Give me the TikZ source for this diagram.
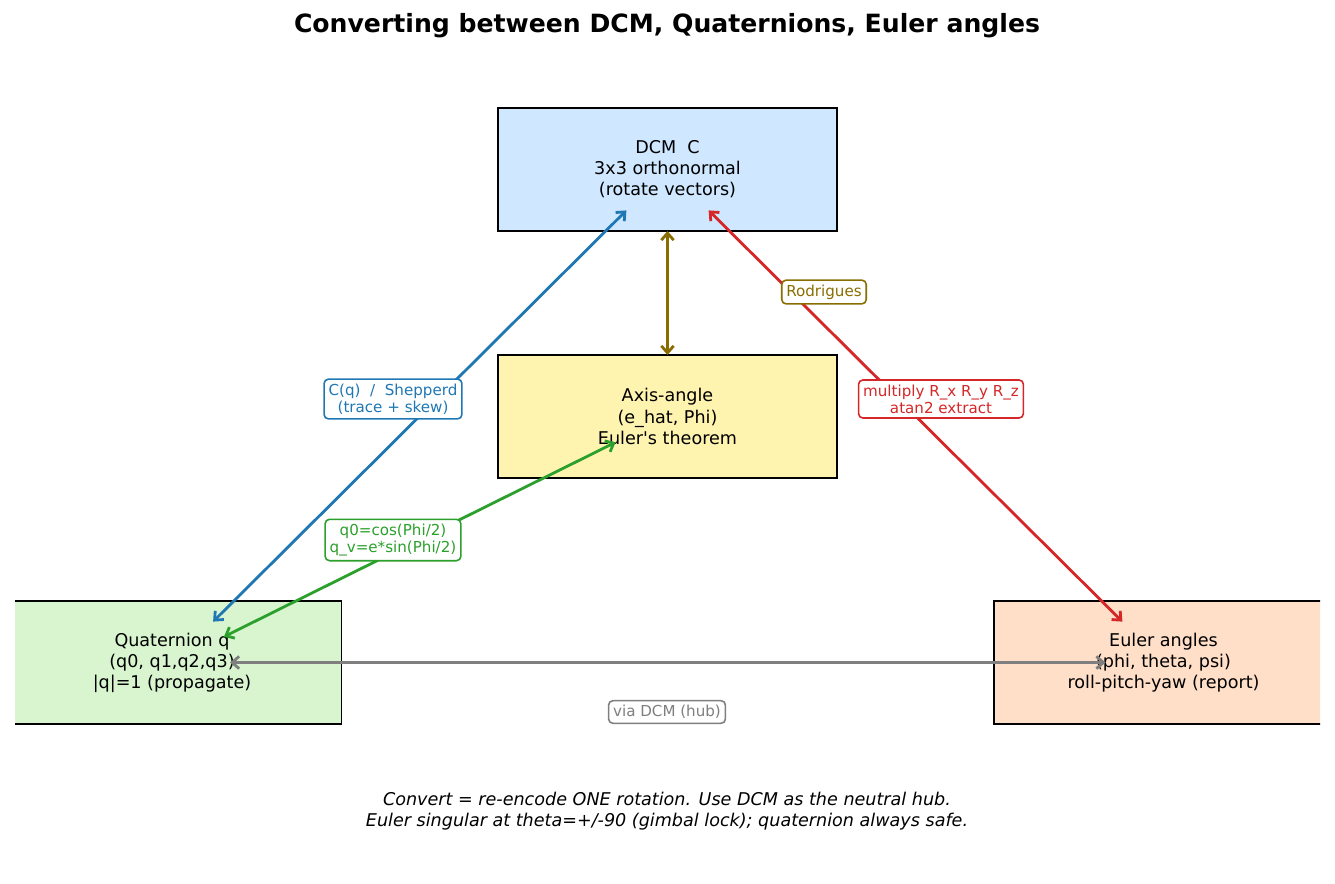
\documentclass[tikz,border=0pt]{standalone}
\usepackage{fontspec}
\setmainfont{DejaVu Sans}[ItalicFont={DejaVu Sans Oblique},BoldFont={DejaVu Sans Bold}]
\usetikzlibrary{arrows.meta,positioning}

\definecolor{dcmfill}{HTML}{CFE8FF}
\definecolor{axisfill}{HTML}{FFF3B0}
\definecolor{quatfill}{HTML}{D9F5D0}
\definecolor{eulerfill}{HTML}{FFDFC8}
\definecolor{cblue}{HTML}{1F77B4}
\definecolor{cred}{HTML}{D62728}
\definecolor{cgreen}{HTML}{2CA02C}
\definecolor{colive}{HTML}{8A6D00}
\definecolor{cgray}{HTML}{7F7F7F}

\begin{document}
\begin{tikzpicture}[
      x=0.02cm,y=-0.02cm,
      repbox/.style={rectangle,draw=black,line width=1.1pt,
                     minimum width=6.78cm,minimum height=2.46cm,align=center,
                     font=\fontsize{10}{12}\selectfont},
      tag/.style={rectangle,draw,fill=white,rounded corners=2.5pt,line width=0.9pt,
                  align=center,inner sep=2.6pt,font=\fontsize{8.6}{9.8}\selectfont},
      conv/.style={{Straight Barb[length=4pt,width=7pt]}-{Straight Barb[length=4pt,width=7pt]},
                   line width=1.6pt,shorten >=1.16cm,shorten <=1.16cm},
    ]
    \useasboundingbox (0,0) rectangle (1335,883);

    % Title
    \node[font=\bfseries\fontsize{14.3}{17}\selectfont] (title) at (667,26)
      {Converting between DCM, Quaternions, Euler angles};

    % Representations (clipped to the plot area)
    \begin{scope}
      \clip (15,0) rectangle (1320,883);
      \node[repbox,fill=dcmfill] (dcm) at (667.5,169.5)
        {DCM\ \ C\\3x3 orthonormal\\(rotate vectors)};
      \node[repbox,fill=axisfill] (axis) at (667.5,416.5)
        {Axis-angle\\(e\_hat, Phi)\\Euler\textquotesingle s theorem};
      \node[repbox,fill=quatfill] (quat) at (172,662.5)
        {Quaternion q\\(q0, q1,q2,q3)\\|q|=1 (propagate)};
      \node[repbox,fill=eulerfill] (euler) at (1163.5,662.5)
        {Euler angles\\(phi, theta, psi)\\roll-pitch-yaw (report)};
    \end{scope}

    % Conversions
    \draw[conv,draw=cblue] (dcm.center) -- (quat.center);
    \draw[conv,draw=cred] (dcm.center) -- (euler.center);
    \draw[conv,draw=colive,shorten >=1.23cm,shorten <=1.23cm] (dcm.center) -- (axis.center);
    \draw[conv,draw=cgreen] (axis.center) -- (quat.center);
    \draw[conv,draw=cgray] (quat.center) -- (euler.center);

    % Labels on arrows
    \node[tag,draw=cblue,text=cblue] (tagq) at (393,399) {C(q)\ \ /\ \ Shepperd\\(trace + skew)};
    \node[tag,draw=colive,text=colive] (tagrod) at (824,292) {Rodrigues};
    \node[tag,draw=cred,text=cred] (tageul) at (941,399) {multiply R\_x R\_y R\_z\\atan2 extract};
    \node[tag,draw=cgreen,text=cgreen] (tagaxis) at (393,540) {q0=cos(Phi/2)\\q\_v=e*sin(Phi/2)};
    \node[tag,draw=cgray,text=cgray] (taghub) at (667,712) {via DCM (hub)};

    % Footnote
    \node[align=center,font=\itshape\fontsize{10}{12}\selectfont] (note) at (667,811)
      {Convert = re-encode ONE rotation. Use DCM as the neutral hub.\\
       Euler singular at theta=+/-90 (gimbal lock); quaternion always safe.};

  \end{tikzpicture}
\end{document}
